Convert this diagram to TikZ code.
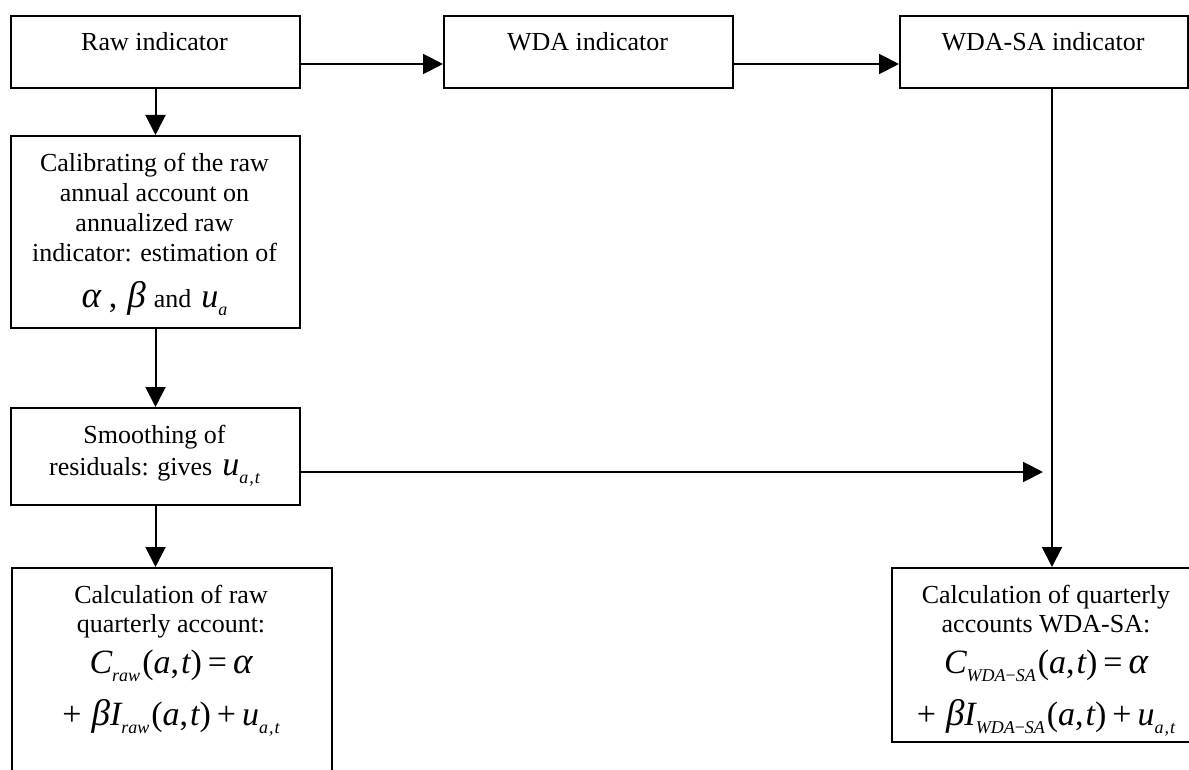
\documentclass[tikz,border=0pt]{standalone}
\usepackage{fontspec}
\setmainfont{Liberation Serif}
\usetikzlibrary{arrows.meta}
\newcommand\mf{\fontsize{34}{38}\selectfont}
\newcommand\gf{\fontsize{37}{40}\selectfont}
\newcommand\sbf{\fontsize{18}{19}\selectfont}
\newcommand\mi[1]{{\mf\itshape #1}}
\newcommand\gi[1]{{\gf\itshape #1}}
\newcommand\mr[1]{{\mf #1}}
\newcommand\sbs[1]{\raisebox{-8pt}{\sbf\itshape #1}}
\newcommand\op[1]{\kern6pt\mr{#1}\kern6pt}
\newcommand\Ls[2]{\baselineskip=#1\relax #2\par}
\newcommand\stk[2]{\vtop{\hsize=#1\parindent=0pt\centering\lineskiplimit=-\maxdimen\lineskip=0pt #2}}
\begin{document}
\begin{tikzpicture}[x=1pt,y=-1pt,
  box/.style={draw,line width=2pt,inner sep=0pt,anchor=north west},
  lbl/.style={inner sep=0pt,anchor=base,font=\fontsize{26}{30}\selectfont},
  arr/.style={line width=2pt,-{Triangle[length=20pt,width=20pt]}}]
\useasboundingbox (0,0) rectangle (1189,770);
\clip (0,0) rectangle (1189,770);
% boxes
\node[box,minimum width=289pt,minimum height=72pt] (raw) at (10,15) {};
\node[box,minimum width=289pt,minimum height=72pt] (wda) at (443,15) {};
\node[box,minimum width=288pt,minimum height=72pt] (wdasa) at (899,15) {};
\node[box,minimum width=289pt,minimum height=192pt] (cal) at (10,135) {};
\node[box,minimum width=289pt,minimum height=97pt] (sm) at (10,407) {};
\node[box,minimum width=320pt,minimum height=260pt] (bl) at (11,567) {};
\node[box,minimum width=320pt,minimum height=174pt] (br) at (891,567) {};
% texts
\node[lbl] (rawt) at (154.5,51) {Raw indicator};
\node[lbl] (wdat) at (587.5,51) {WDA indicator};
\node[lbl] (wdasat) at (1043,51) {WDA-SA indicator};
\node[lbl] (calt) at (154.5,172) {\stk{300pt}{%
  \Ls{30pt}{Calibrating of the raw}%
  \Ls{30pt}{annual account on}%
  \Ls{30pt}{annualized raw}%
  \Ls{30pt}{indicator: estimation of}%
  \Ls{46pt}{\gi{α}\kern8pt\mr{,}\kern10pt\gi{β}\kern8pt and\kern10pt\mi{u}\sbs{a}}}};
\node[lbl] (smt) at (154.5,443) {\stk{300pt}{%
  \Ls{30pt}{Smoothing of}%
  \Ls{32pt}{residuals: gives\kern10pt\mi{u}\sbs{a\kern1pt,\kern1pt t}}}};
\node[lbl] (blt) at (171,603) {\stk{320pt}{%
  \Ls{30pt}{Calculation of raw}%
  \Ls{29pt}{quarterly account:}%
  \Ls{41pt}{\mi{C}\sbs{raw}\kern2pt\mr{(}\mi{a}\mr{,}\kern2pt\mi{t}\mr{)}\op{=}\gi{α}}%
  \Ls{52pt}{\mr{+}\kern10pt\gi{β}\mi{I}\sbs{raw}\kern2pt\mr{(}\mi{a}\mr{,}\kern2pt\mi{t}\mr{)}\op{+}\mi{u}\sbs{a\kern1pt,\kern1pt t}}}};
\node[lbl] (brt) at (1046,603) {\stk{320pt}{%
  \Ls{30pt}{Calculation of quarterly}%
  \Ls{29pt}{accounts WDA-SA:}%
  \Ls{41pt}{\mi{C}\sbs{WDA{\upshape −}SA}\kern2pt\mr{(}\mi{a}\mr{,}\kern2pt\mi{t}\mr{)}\op{=}\gi{α}}%
  \Ls{52pt}{\mr{+}\kern10pt\gi{β}\mi{I}\sbs{WDA{\upshape −}SA}\kern2pt\mr{(}\mi{a}\mr{,}\kern2pt\mi{t}\mr{)}\op{+}\mi{u}\sbs{a\kern1pt,\kern1pt t}}}};
% connectors
\coordinate (join) at (1043,472);
\draw[arr] ([yshift=-12pt]raw.east) -- ([yshift=-12pt]wda.west);
\draw[arr] ([yshift=-12pt]wda.east) -- ([yshift=-12pt]wdasa.west);
\draw[arr] (raw.south) -- (cal.north);
\draw[arr] (cal.south) -- (sm.north);
\draw[arr] (sm.south) -- (sm.south |- bl.north);
\draw[arr] (sm.east |- join) -- (join);
\draw[arr] (br.north |- wdasa.south) -- (br.north);
\end{tikzpicture}
\end{document}
